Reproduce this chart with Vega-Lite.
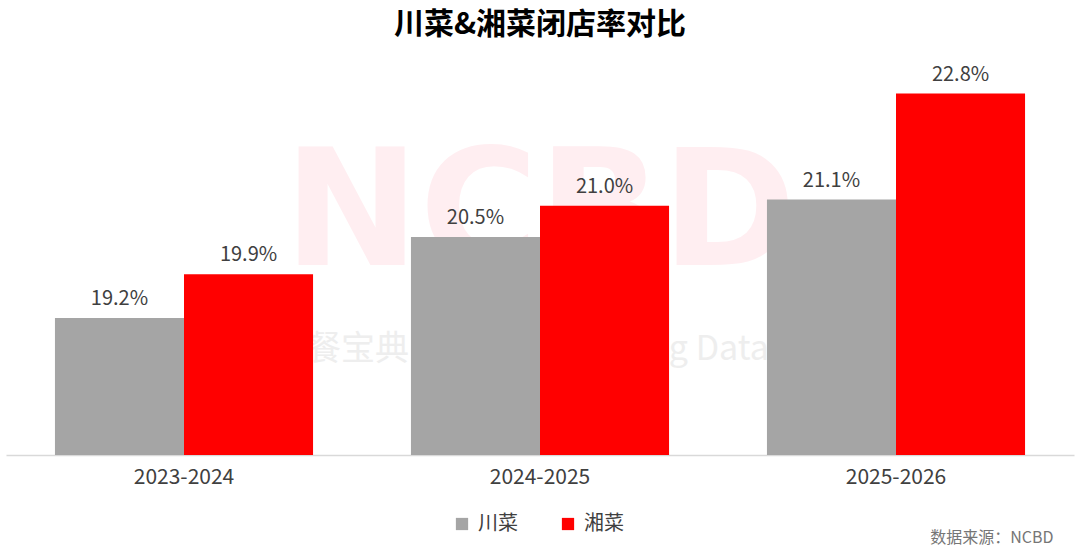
{
  "$schema": "https://vega.github.io/schema/vega-lite/v6.json",
  "autosize": {"type": "none"},
  "width": 1068,
  "height": 405,
  "padding": {"left": 6, "top": 50, "right": 6, "bottom": 95},
  "background": "#ffffff",
  "config": {
    "view": {"stroke": null},
    "font": "Noto Sans CJK SC"
  },
  "title": {
    "text": "川菜&湘菜闭店率对比",
    "fontSize": 30,
    "fontWeight": "bold",
    "color": "#000000",
    "anchor": "middle",
    "offset": 10
  },
  "data": {
    "values": [
      {"period": "2023-2024", "cuisine": "川菜", "rate": 0.192},
      {"period": "2023-2024", "cuisine": "湘菜", "rate": 0.199},
      {"period": "2024-2025", "cuisine": "川菜", "rate": 0.205},
      {"period": "2024-2025", "cuisine": "湘菜", "rate": 0.210},
      {"period": "2025-2026", "cuisine": "川菜", "rate": 0.211},
      {"period": "2025-2026", "cuisine": "湘菜", "rate": 0.228}
    ]
  },
  "encoding": {
    "x": {
      "field": "period",
      "type": "nominal",
      "scale": {
        "domain": ["2023-2024", "2024-2025", "2025-2026"],
        "paddingInner": 0.275,
        "paddingOuter": 0.1375
      },
      "axis": {
        "title": "数据来源：NCBD",
        "titleFontSize": 16,
        "titleFontWeight": "normal",
        "titleColor": "#767676",
        "titleAlign": "right",
        "titleBaseline": "middle",
        "titleX": 1047,
        "titleY": 82,
        "labelAngle": 0,
        "labelFontSize": 21,
        "labelColor": "#404040",
        "labelPadding": 11,
        "ticks": false,
        "domainColor": "#D9D9D9",
        "domainWidth": 1.5,
        "grid": false
      }
    },
    "y": {
      "field": "rate",
      "type": "quantitative",
      "scale": {"domain": [0.17, 0.235], "zero": false, "nice": false},
      "axis": null
    }
  },
  "layer": [
    {
      "data": {"values": [{"period": "2024-2025", "rate": 0.2096, "wm": "NCBD"}]},
      "mark": {
        "type": "text",
        "font": "DejaVu Sans",
        "fontWeight": "bold",
        "fontSize": 162,
        "color": "#FFEEF1",
        "baseline": "middle",
        "align": "center",
        "dy": 8
      },
      "encoding": {
        "text": {"field": "wm"}
      }
    },
    {
      "data": {"values": [{"period": "2024-2025", "rate": 0.1869, "wm": "餐宝典"}]},
      "mark": {
        "type": "text",
        "fontSize": 34,
        "color": "#EEEEEE",
        "baseline": "middle",
        "align": "center",
        "dx": -182
      },
      "encoding": {
        "text": {"field": "wm"}
      }
    },
    {
      "data": {"values": [{"period": "2024-2025", "rate": 0.1869, "wm": "Big Data"}]},
      "mark": {
        "type": "text",
        "fontSize": 34,
        "color": "#EEEEEE",
        "baseline": "middle",
        "align": "center",
        "dx": 163
      },
      "encoding": {
        "text": {"field": "wm"}
      }
    },
    {
      "mark": {"type": "bar", "clip": true},
      "encoding": {
        "xOffset": {
          "field": "cuisine",
          "sort": ["川菜", "湘菜"],
          "scale": {"paddingInner": 0, "paddingOuter": 0}
        },
        "color": {
          "field": "cuisine",
          "type": "nominal",
          "scale": {"domain": ["川菜", "湘菜"], "range": ["#A5A5A5", "#FF0000"]},
          "legend": {
            "title": null,
            "orient": "none",
            "direction": "horizontal",
            "legendX": 446,
            "legendY": 464,
            "symbolType": "square",
            "symbolSize": 150,
            "symbolStrokeWidth": 0,
            "labelFontSize": 20,
            "labelColor": "#404040",
            "labelOffset": 6,
            "columnPadding": 40
          }
        }
      }
    },
    {
      "mark": {
        "type": "text",
        "baseline": "bottom",
        "dy": -9,
        "fontSize": 20,
        "color": "#404040"
      },
      "encoding": {
        "xOffset": {
          "field": "cuisine",
          "sort": ["川菜", "湘菜"],
          "scale": {"paddingInner": 0, "paddingOuter": 0}
        },
        "text": {"field": "rate", "type": "quantitative", "format": ".1%"}
      }
    }
  ]
}
